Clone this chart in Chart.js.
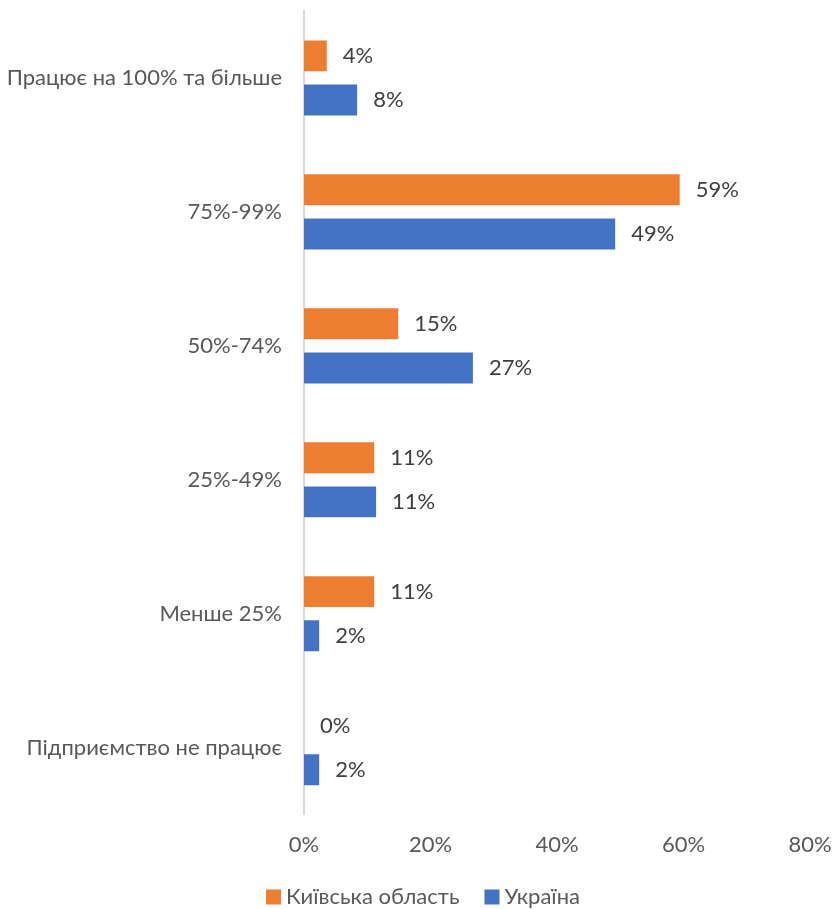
<!DOCTYPE html>
<html>
<head>
<meta charset="utf-8">
<script src="https://cdn.jsdelivr.net/npm/chart.js@4"></script>
<style>
html,body{margin:0;padding:0;background:#fff;}
#wrap{width:834px;height:909px;position:relative;}
</style>
</head>
<body>
<div id="wrap"><canvas id="c"></canvas></div>
<script>
const categories = ["Працює на 100% та більше","75%-99%","50%-74%","25%-49%","Менше 25%","Підприємство не працює"];
const seriesNames = ["Київська область","Україна"];
const kyivValues = [3.6, 59.4, 14.9, 11.1, 11.1, 0];
const ukraineValues = [8.4, 49.2, 26.7, 11.4, 2.4, 2.4];
const xTicks = [0, 20, 40, 60, 80];
const seriesColors = ['#ED7D31', '#4472C4'];

const FONT = "Lato, 'Open Sans', sans-serif";

const dataLabels = {
  id: 'dataLabels',
  afterDatasetsDraw(chart) {
    const ctx = chart.ctx;
    ctx.save();
    ctx.font = "22px " + FONT;
    ctx.fillStyle = "#404040";
    ctx.textAlign = "left";
    ctx.textBaseline = "middle";
    chart.data.datasets.forEach((ds, di) => {
      const meta = chart.getDatasetMeta(di);
      meta.data.forEach((el, i) => {
        ctx.fillText(Math.round(ds.data[i]) + "%", el.x + 16, el.y);
      });
    });
    ctx.restore();
  }
};

const bottomLegend = {
  id: 'bottomLegend',
  afterDraw(chart) {
    const ctx = chart.ctx;
    ctx.save();
    ctx.font = "22px " + FONT;
    ctx.textBaseline = "middle";
    ctx.textAlign = "left";
    const box = 15, gapText = 5, gapItem = 25;
    const items = chart.data.datasets.map(ds => ({ text: ds.label, color: ds.backgroundColor, w: ctx.measureText(ds.label).width }));
    let total = 0;
    items.forEach((it, i) => { total += box + gapText + it.w + (i < items.length - 1 ? gapItem : 0); });
    let x = chart.width / 2 + 6 - total / 2;
    const cy = chart.height - 12;
    items.forEach(it => {
      ctx.fillStyle = it.color;
      ctx.fillRect(x, cy - box / 2, box, box);
      x += box + gapText;
      ctx.fillStyle = '#595959';
      ctx.fillText(it.text, x, cy);
      x += it.w + gapItem;
    });
    ctx.restore();
  }
};

new Chart(document.getElementById('c'), {
  type: 'bar',
  data: {
    labels: categories,
    datasets: [
      { label: seriesNames[0], data: kyivValues, backgroundColor: seriesColors[0], categoryPercentage: 0.66, barPercentage: 0.7 },
      { label: seriesNames[1], data: ukraineValues, backgroundColor: seriesColors[1], categoryPercentage: 0.66, barPercentage: 0.7 }
    ]
  },
  options: {
    indexAxis: 'y',
    responsive: true,
    maintainAspectRatio: false,
    animation: false,
    layout: { autoPadding: false, padding: { top: 11, left: 8, right: 24, bottom: 34 } },
    scales: {
      x: {
        min: 0, max: 80,
        afterBuildTicks(scale) { scale.ticks = xTicks.map(v => ({ value: v })); },
        afterFit(scale) { scale.paddingLeft = 0; scale.paddingRight = 0; },
        grid: { display: false, drawTicks: false },
        border: { display: false },
        ticks: { color: '#595959', font: { family: FONT, size: 22 }, padding: 17, callback: v => v + '%' }
      },
      y: {
        grid: { display: false, drawTicks: false },
        border: { display: true, color: '#D9D9D9', width: 2 },
        ticks: { color: '#595959', font: { family: FONT, size: 22 }, padding: 22 },
        afterFit(scale) { scale.width = 296; scale.paddingTop = 0; scale.paddingBottom = 0; }
      }
    },
    plugins: {
      legend: { display: false },
      tooltip: { enabled: false }
    }
  },
  plugins: [dataLabels, bottomLegend]
});
</script>
</body>
</html>
